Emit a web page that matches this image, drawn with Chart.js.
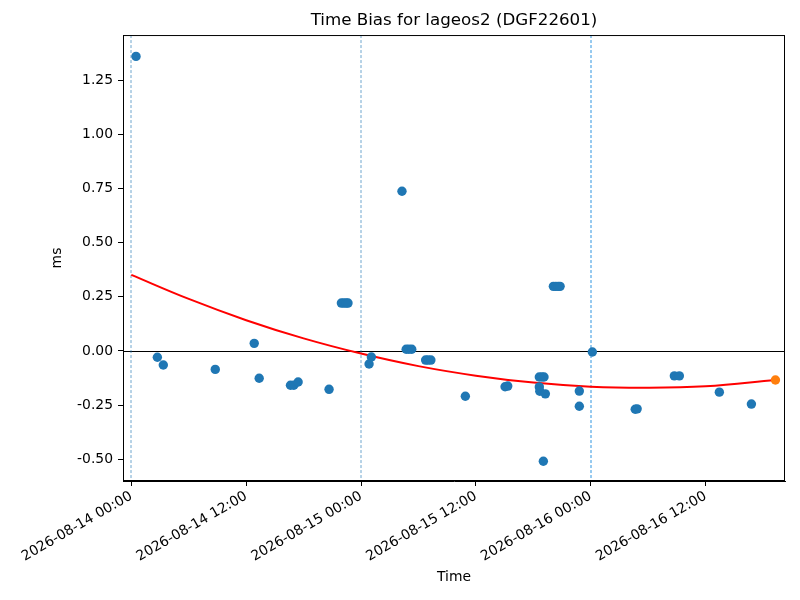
<!DOCTYPE html>
<html>
<head>
<meta charset="utf-8">
<script src="https://cdn.jsdelivr.net/npm/chart.js@4.4.0/dist/chart.umd.min.js"></script>
<style>
  html, body { margin: 0; padding: 0; background: #fff; }
  #wrap { width: 800px; height: 600px; }
</style>
</head>
<body>
<div id="wrap"><canvas id="chart" width="800" height="600"></canvas></div>
<script>
// hours after 2026-08-14 00:00
const obsHours = [
  0.49, 2.72, 3.34, 8.77, 12.84, 13.36, 16.63, 16.98, 17.43, 20.66,
  21.95, 22.2, 22.45, 22.64, 24.84, 25.08, 28.28, 28.72, 29.0, 29.3,
  30.75, 31.0, 31.3, 34.9, 39.05, 39.33, 42.63, 42.9, 43.12, 42.63,
  42.68, 43.26, 43.05, 44.1, 44.35, 44.6, 44.8, 46.81, 46.81, 48.17,
  52.65, 52.85, 56.74, 57.26, 61.44, 64.79
];
const obsBias = [
  1.359, -0.029, -0.065, -0.085, 0.035, -0.126, -0.158, -0.158, -0.143, -0.177,
  0.221, 0.221, 0.221, 0.221, -0.060, -0.028, 0.737, 0.008, 0.008, 0.008,
  -0.042, -0.042, -0.042, -0.209, -0.165, -0.162, -0.120, -0.120, -0.120, -0.166,
  -0.186, -0.198, -0.509, 0.298, 0.298, 0.298, 0.298, -0.185, -0.255, -0.005,
  -0.269, -0.267, -0.115, -0.115, -0.190, -0.245
];
const latestHours = [67.3];
const latestBias = [-0.134];

// red fit curve
const fitHours = [0, 6, 12, 18, 24, 30, 36, 42, 48, 54, 60, 67.3];
const fitBias = [0.351, 0.240, 0.142, 0.058, -0.012, -0.070, -0.114, -0.146, -0.165, -0.170, -0.163, -0.134];

const dayMarks = [0, 24, 48];
const xTicks = [0, 12, 24, 36, 48, 60];
const yTicks = [-0.5, -0.25, 0, 0.25, 0.5, 0.75, 1.0, 1.25];

function fmtHour(h) {
  const d = new Date(Date.UTC(2026, 7, 14) + h * 3600000);
  const p = n => String(n).padStart(2, '0');
  return `${d.getUTCFullYear()}-${p(d.getUTCMonth() + 1)}-${p(d.getUTCDate())} ${p(d.getUTCHours())}:${p(d.getUTCMinutes())}`;
}

const zip = (xs, ys) => xs.map((x, i) => ({ x, y: ys[i] }));

const extras = {
  id: 'extras',
  beforeDatasetsDraw(chart) {
    const { ctx, chartArea: a, scales: { x, y } } = chart;
    ctx.save();
    const y0 = Math.round(y.getPixelForValue(0)) + 0.5;
    ctx.strokeStyle = '#000';
    ctx.lineWidth = 1;
    ctx.beginPath();
    ctx.moveTo(a.left, y0);
    ctx.lineTo(a.right, y0);
    ctx.stroke();

    // thin dashed day markers, drawn between pixel columns so they come out soft blue
    dayMarks.forEach((h, i) => {
      const px = Math.round(x.getPixelForValue(h));
      ctx.strokeStyle = i < 2 ? '#1f77b4' : '#2f95e0';
      ctx.lineWidth = i < 2 ? 0.65 : 1;
      ctx.setLineDash([3, 2]);
      ctx.beginPath();
      ctx.moveTo(px, a.top);
      ctx.lineTo(px, a.bottom);
      ctx.stroke();
    });
    ctx.restore();
  },
  afterDraw(chart) {
    const { ctx, chartArea: a } = chart;
    ctx.save();
    ctx.strokeStyle = '#000';
    ctx.lineWidth = 1;
    ctx.strokeRect(a.left + 0.5, a.top + 0.5, a.right - a.left - 1, a.bottom - a.top - 1);
    ctx.restore();
  }
};

Chart.defaults.font.family = '"DejaVu Sans", sans-serif';
Chart.defaults.font.size = 13.9;
Chart.defaults.color = '#000';

new Chart(document.getElementById('chart'), {
  type: 'scatter',
  data: {
    datasets: [
      {
        type: 'line',
        data: zip(fitHours, fitBias),
        borderColor: '#ff0000',
        borderWidth: 2,
        pointRadius: 0,
        tension: 0.4,
        fill: false,
        order: 3
      },
      {
        data: zip(obsHours, obsBias),
        backgroundColor: '#1f77b4',
        borderWidth: 0,
        pointRadius: 4.7,
        order: 2
      },
      {
        data: zip(latestHours, latestBias),
        backgroundColor: '#ff7f0e',
        borderWidth: 0,
        pointRadius: 4.7,
        order: 1
      }
    ]
  },
  options: {
    responsive: false,
    animation: false,
    devicePixelRatio: 1,
    layout: { padding: { left: 0, right: 15, top: 0, bottom: 0 } },
    plugins: {
      legend: { display: false },
      tooltip: { enabled: false },
      title: {
        display: true,
        text: 'Time Bias for lageos2 (DGF22601)',
        fullSize: false,
        font: { size: 16.7, weight: 'normal', lineHeight: 1.2 },
        padding: { top: 11, bottom: 4 }
      }
    },
    scales: {
      x: {
        type: 'linear',
        min: -0.87,
        max: 68.3,
        afterBuildTicks: s => { s.ticks = xTicks.map(value => ({ value })); },
        afterFit: s => { s.height = 119; },
        ticks: {
          autoSkip: false,
          minRotation: 30,
          maxRotation: 30,
          padding: 2,
          callback: v => fmtHour(v)
        },
        grid: { drawOnChartArea: false, tickLength: 5, tickColor: '#000' },
        border: { color: '#000' },
        title: { display: true, text: 'Time', padding: { top: 0, bottom: 14.7 } }
      },
      y: {
        min: -0.6,
        max: 1.4576,
        afterBuildTicks: s => { s.ticks = yTicks.map(value => ({ value })); },
        afterFit: s => { s.width = 123; },
        ticks: { padding: 5, callback: v => v.toFixed(2) },
        grid: { drawOnChartArea: false, tickLength: 5, tickColor: '#000' },
        border: { color: '#000' },
        title: { display: true, text: 'ms', padding: { top: 48.7, bottom: 0 } }
      }
    }
  },
  plugins: [extras]
});
</script>
</body>
</html>
